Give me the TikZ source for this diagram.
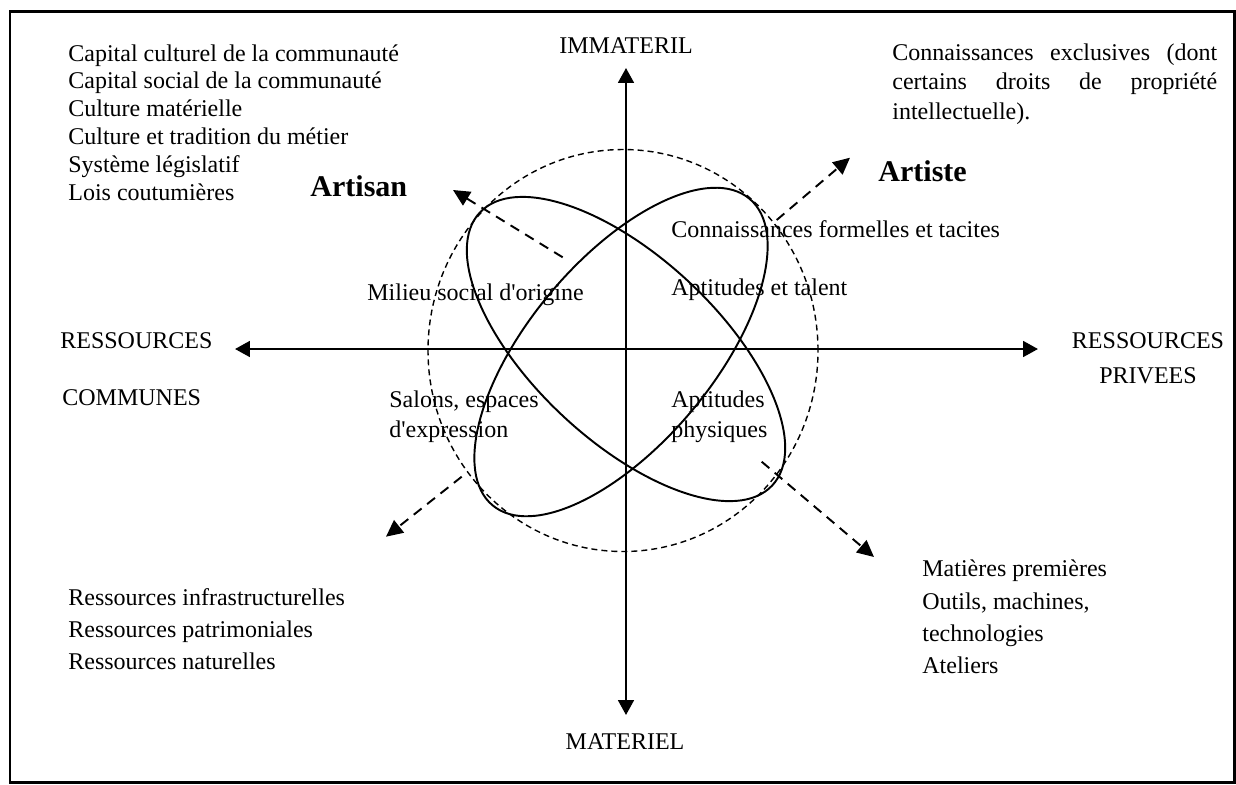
\documentclass[tikz,border=0pt]{standalone}
\usepackage{fontspec}
\setmainfont{Liberation Serif}
\usetikzlibrary{arrows.meta}

\begin{document}
\begin{tikzpicture}[scale=0.2,
    txt/.style={anchor=base west,font=\fontsize{13.66}{16}\selectfont},
    ctxt/.style={anchor=base,font=\fontsize{13.66}{16}\selectfont},
    bigtxt/.style={anchor=base west,font=\fontsize{17.1}{20}\selectfont\bfseries},
    axis/.style={line width=1.3pt,{Triangle[length=8.5pt,width=9pt]}-{Triangle[length=8.5pt,width=9pt]}},
    dasharrow/.style={line width=1.1pt,dash pattern=on 5.7pt off 4pt,-{Triangle[length=9.5pt,width=9pt]}},
    loop/.style={line width=1.1pt},
    ring/.style={line width=0.8pt,dash pattern=on 3.4pt off 2.3pt}]
                \tikzstyle{every node}+=[inner sep=0pt]
                \useasboundingbox (0,0) rectangle (123.6,-78.4);
                \draw [black,line width=1.7pt] (1.0,-1.1) rectangle (123.45,-78.25);
                \coordinate (axT) at (62.6,-6.8);
                \coordinate (axB) at (62.6,-71.5);
                \coordinate (axL) at (23.5,-34.9);
                \coordinate (axR) at (103.8,-34.9);
                \draw [axis] (axB) -- (axT);
                \draw [axis] (axL) -- (axR);
                \draw [ring] (62.3,-35.05) ellipse [x radius=19.5, y radius=20.1];
                \draw [loop,rotate around={-43:(62.6,-34.9)}] (62.6,-34.9) ellipse [x radius=20, y radius=9.2];
                \draw [loop,rotate around={50:(62.1,-35.2)}] (62.1,-35.2) ellipse [x radius=20, y radius=9.2];
                \coordinate (nwA) at (56.27,-25.73);
                \coordinate (nwB) at (45.3,-19.0);
                \coordinate (neA) at (77.67,-22.0);
                \coordinate (neB) at (85.0,-15.77);
                \coordinate (swA) at (46.17,-47.67);
                \coordinate (swB) at (38.6,-53.67);
                \coordinate (seA) at (76.17,-46.17);
                \coordinate (seB) at (87.4,-55.7);
                \draw [dasharrow] (nwA) -- (nwB);
                \draw [dasharrow] (neA) -- (neB);
                \draw [dasharrow] (swA) -- (swB);
                \draw [dasharrow] (seA) -- (seB);
                \node (immat) [ctxt] at (62.6,-5.3) {IMMATERIL};
                \node (mat) [ctxt] at (62.5,-74.9) {MATERIEL};
                \node (resL) [txt] at (6.0,-34.8) {RESSOURCES};
                \node (comm) [txt] at (6.2,-40.5) {COMMUNES};
                \node (resR) [ctxt] at (114.8,-34.8) {RESSOURCES};
                \node (priv) [ctxt] at (114.8,-38.3) {PRIVEES};
                \node (artisan) [bigtxt] at (31.0,-19.6) {Artisan};
                \node (artiste) [bigtxt] at (87.8,-18.1) {Artiste};
                \node (cult1) [txt] at (6.8,-6.1) {Capital culturel de la communauté};
                \node (cult2) [txt] at (6.8,-8.88) {Capital social de la communauté};
                \node (cult3) [txt] at (6.8,-11.66) {Culture matérielle};
                \node (cult4) [txt] at (6.8,-14.44) {Culture et tradition du métier};
                \node (cult5) [txt] at (6.8,-17.22) {Système législatif};
                \node (cult6) [txt] at (6.8,-20.0) {Lois coutumières};
                \node (excl1) [txt] at (89.2,-6.0) {\makebox[184.9pt][s]{Connaissances exclusives (dont}};
                \node (excl2) [txt] at (89.2,-8.95) {\makebox[184.9pt][s]{certains droits de propriété}};
                \node (excl3) [txt] at (89.2,-11.9) {intellectuelle).};
                \node (conn) [txt] at (67.1,-23.7) {Connaissances formelles et tacites};
                \node (milieu) [txt] at (36.7,-30.0) {Milieu social d\textquotesingle origine};
                \node (talent) [txt] at (67.1,-29.5) {Aptitudes et talent};
                \node (salon1) [txt] at (38.9,-40.7) {Salons, espaces};
                \node (salon2) [txt] at (38.9,-43.7) {d\textquotesingle expression};
                \node (phys1) [txt] at (67.1,-40.7) {Aptitudes};
                \node (phys2) [txt] at (67.1,-43.7) {physiques};
                \node (infra1) [txt] at (6.8,-60.5) {Ressources infrastructurelles};
                \node (infra2) [txt] at (6.8,-63.7) {Ressources patrimoniales};
                \node (infra3) [txt] at (6.8,-66.9) {Ressources naturelles};
                \node (mat1) [txt] at (92.2,-57.6) {Matières premières};
                \node (mat2) [txt] at (92.2,-60.9) {Outils, machines,};
                \node (mat3) [txt] at (92.2,-64.1) {technologies};
                \node (mat4) [txt] at (92.2,-67.3) {Ateliers};
              \end{tikzpicture}
\end{document}
